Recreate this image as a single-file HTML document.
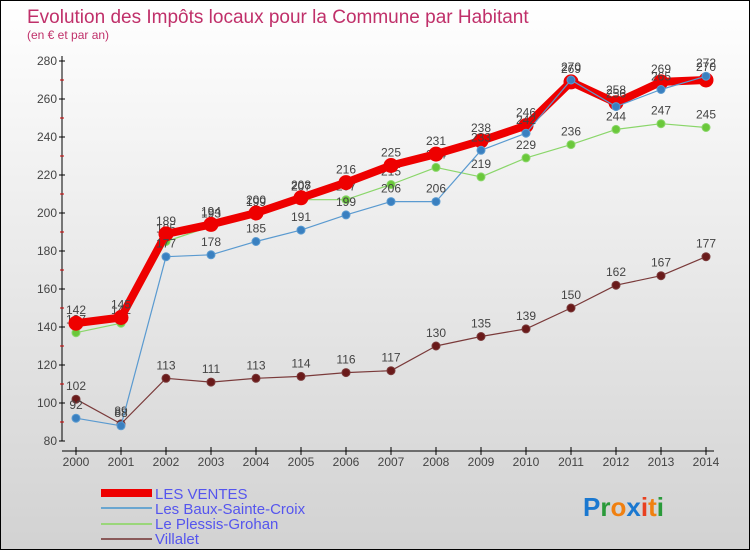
<!DOCTYPE html>
<html><head><meta charset="utf-8"><style>
body{margin:0;width:750px;height:550px;overflow:hidden}
#c{position:relative;width:748px;height:548px;border:1px solid #000;background:linear-gradient(#fff,#d2d2d2);font-family:"Liberation Sans",sans-serif}
</style></head><body>
<div id="c">
<svg id="s" width="748" height="548" style="position:absolute;left:0;top:0">
<text x="26" y="22" font-size="19" fill="#c0306a">Evolution des Impôts locaux pour la Commune par Habitant</text>
<text x="26" y="38" font-size="12" fill="#c0306a">(en € et par an)</text>
<g id="axes"></g><g id="series"></g>
<g font-size="15" fill="#5555ee">
<rect x="100" y="488" width="51" height="8" fill="#e00"/>
<text x="154" y="498">LES VENTES</text>
<rect x="100" y="506" width="51" height="2" fill="#6aa6d0"/>
<text x="154" y="513">Les Baux-Sainte-Croix</text>
<rect x="100" y="522" width="51" height="2" fill="#9ad67a"/>
<text x="154" y="528">Le Plessis-Grohan</text>
<rect x="100" y="537" width="51" height="2" fill="#8a5a5a"/>
<text x="154" y="543">Villalet</text>
</g>
<text x="582" y="515" font-size="26" font-weight="bold"><tspan fill="#1a78d0">P</tspan><tspan fill="#2a9a3a">r</tspan><tspan fill="#f08010">o</tspan><tspan fill="#1a78d0">x</tspan><tspan fill="#e84020">i</tspan><tspan fill="#f08010">t</tspan><tspan fill="#2a9a3a">i</tspan></text>
</svg></div>
<script>
const years=[2000,2001,2002,2003,2004,2005,2006,2007,2008,2009,2010,2011,2012,2013,2014];
const yTicks=[80,100,120,140,160,180,200,220,240,260,280];
const ventes=[142,145,189,194,200,208,216,225,231,238,246,269,258,269,270];
const baux=[92,88,177,178,185,191,199,206,206,233,242,270,256,265,272];
const plessis=[137,142,185,193,199,207,207,215,224,219,229,236,244,247,245];
const villalet=[102,89,113,111,113,114,116,117,130,135,139,150,162,167,177];
const NS='http://www.w3.org/2000/svg';
const X=i=>75+i*(705-75)/(years.length-1);
const Y=v=>440-(v-80)*(380/200);
function mk(t,a,p){const e=document.createElementNS(NS,t);for(const k in a)e.setAttribute(k,a[k]);p.appendChild(e);return e;}
const ax=document.getElementById('axes');
let l=mk('line',{x1:61,y1:55,x2:61,y2:440,stroke:'#000'},ax);


l=mk('line',{x1:61,y1:450,x2:713,y2:450,stroke:'#000'},ax);


yTicks.forEach(v=>{mk('line',{x1:58,x2:64,y1:Y(v),y2:Y(v),stroke:'#000'},ax);
 if(v<280)mk('line',{x1:59,x2:63,y1:Y(v+10),y2:Y(v+10),stroke:'#c00'},ax);
 const t=mk('text',{x:56,y:Y(v)+4,'text-anchor':'end','font-size':12,fill:'#444'},ax);t.textContent=v;
 
 });
years.forEach((y,i)=>{mk('line',{x1:X(i),x2:X(i),y1:446,y2:454,stroke:'#000'},ax);
 const t=mk('text',{x:X(i),y:465,'text-anchor':'middle','font-size':12,fill:'#444'},ax);t.textContent=y;
 
 });
const sg=document.getElementById('series');
function draw(d,name,col,w,r,dot){
 const g=mk('g',{},sg);
 
 
 mk('polyline',{points:d.map((v,i)=>X(i)+','+Y(v)).join(' '),fill:'none',stroke:col,'stroke-width':w,'stroke-linejoin':'round'},g);
 d.forEach((v,i)=>{const c=mk('circle',{cx:X(i),cy:Y(v),r:r,fill:dot,stroke:col,'stroke-width':1},g);
  
  
  const t=mk('text',{x:X(i),y:Y(v)-9,'text-anchor':'middle','font-size':12,fill:'#444'},g);t.textContent=v;
  
  });
}
draw(villalet,'villalet','#7a3a3a',1.2,4,'#6a1a1a');
draw(plessis,'plessis','#8ad66a',1.2,4,'#6ac83a');
draw(ventes,'les-ventes','#e00',8,7,'#e00');
draw(baux,'baux','#5a9ad0',1.2,4,'#3a80c0');
</script>
</body></html>
